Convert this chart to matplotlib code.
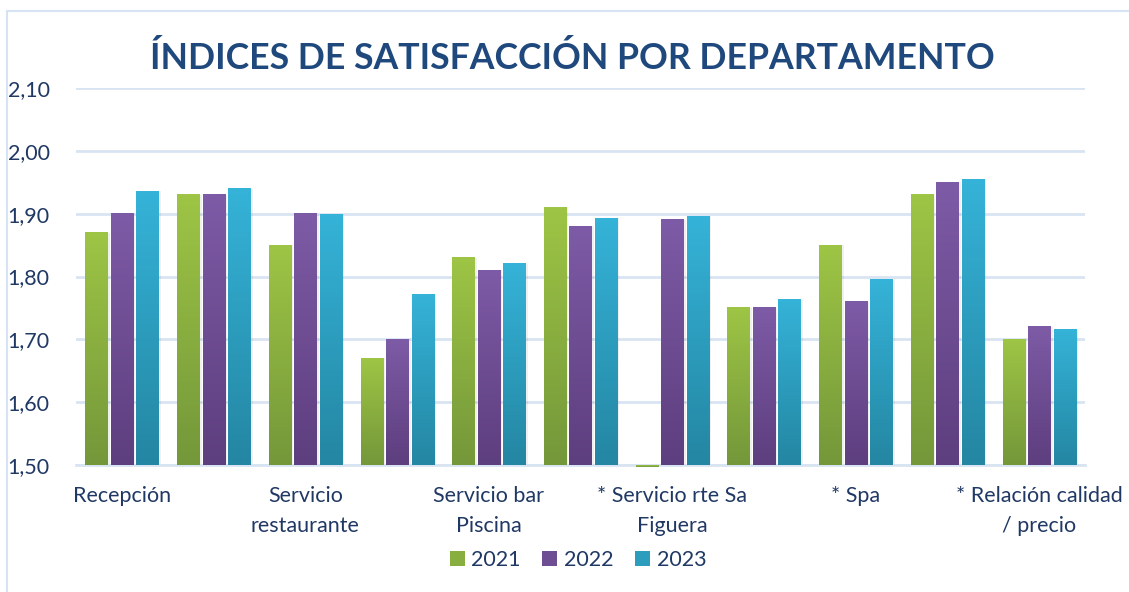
import matplotlib
matplotlib.use("Agg")
import matplotlib.pyplot as plt
import numpy as np
from matplotlib.colors import LinearSegmentedColormap
from matplotlib.patches import Rectangle, Patch

categories = ["Recepción", "", "Servicio\nrestaurante", "", "Servicio bar\nPiscina", "",
              "* Servicio rte Sa\nFiguera", "", "* Spa", "", "* Relación calidad\n/ precio"]
years = ["2021", "2022", "2023"]
v2021 = [1.87, 1.93, 1.85, 1.67, 1.83, 1.91, 1.497, 1.75, 1.85, 1.93, 1.70]
v2022 = [1.90, 1.93, 1.90, 1.70, 1.81, 1.88, 1.89, 1.75, 1.76, 1.95, 1.72]
v2023 = [1.936, 1.94, 1.899, 1.772, 1.82, 1.893, 1.896, 1.763, 1.795, 1.955, 1.715]
yticks = [1.50, 1.60, 1.70, 1.80, 1.90, 2.00, 2.10]

series = [v2021, v2022, v2023]
tops = ["#9EC545", "#7E5BA6", "#35B3D8"]
bottoms = ["#74973A", "#5D3E7E", "#2486A2"]
mids = ["#89AE40", "#6E4D92", "#2D9DBD"]

TXT = "#203864"
GRID = "#D9E4F2"
FONT = ["Lato", "DejaVu Sans"]
FS = 15.5

fig = plt.figure(figsize=(11.29, 5.92), dpi=100)
fig.patch.set_facecolor("white")

# chart border (light blue)
fig.add_artist(Rectangle((7/1129, -0.1), 1.2, (592-11)/592 + 0.1, transform=fig.transFigure,
                         fill=False, edgecolor="#D6E3F4", linewidth=1.5))

ax = fig.add_axes([76/1129, 1-465/592, (1085-76)/1129, (465-88)/592])
ax.set_ylim(1.50, 2.10)
ax.set_xlim(-0.5, len(categories) - 0.5)

x = np.arange(len(categories))
w = 0.24
step = 0.278
base = 1.50
for i, vals in enumerate(series):
    pos = x + (i - 1) * step
    heights = np.array(vals) - base
    bars = ax.bar(pos, heights, width=w, bottom=base, facecolor="none",
                  zorder=3, clip_on=False, linewidth=0)
    cmap = LinearSegmentedColormap.from_list("g%d" % i, [bottoms[i], tops[i]])
    grad = np.linspace(0, 1, 256).reshape(-1, 1)
    for b in bars:
        bx, by = b.get_x(), b.get_y()
        bw, bh = b.get_width(), b.get_height()
        y0, y1 = min(by, by + bh), max(by, by + bh)
        # soft shadow
        ax.add_patch(Rectangle((bx + 0.015, y0), bw + 0.012, (y1 - y0), color="#000000",
                               alpha=0.06, zorder=2, linewidth=0, clip_on=False))
        ax.imshow(grad, extent=[bx, bx + bw, y0, y1], origin="lower", aspect="auto",
                  cmap=cmap, zorder=4, clip_on=False, interpolation="bilinear")
    ax.set_xlim(-0.5, len(categories) - 0.5)
    ax.set_ylim(1.50, 2.10)

ax.set_yticks(yticks)
ax.set_yticklabels([("%.2f" % t).replace(".", ",") for t in yticks], fontsize=FS,
                   color=TXT, family=FONT)
ax.yaxis.grid(True, color=GRID, linewidth=2, zorder=0)
ax.tick_params(axis="y", length=0, pad=19)
ax.tick_params(axis="x", length=0, pad=15)
ax.set_xticks(x)
ax.set_xticklabels(categories, fontsize=FS, color=TXT, family=FONT, linespacing=1.62,
                   va="top")
for s in ["top", "right", "left"]:
    ax.spines[s].set_visible(False)
ax.spines["bottom"].set_color(GRID)
ax.spines["bottom"].set_linewidth(2)
ax.set_facecolor("none")

fig.text(572/1129, 1-58/592, "ÍNDICES DE SATISFACCIÓN POR DEPARTAMENTO", ha="center", va="center",
         fontsize=25.7, fontweight="bold", color="#1F497D", family=FONT)

handles = [Patch(facecolor=mids[i], edgecolor="none", label=years[i]) for i in range(3)]
leg = ax.legend(handles=handles, loc="center", bbox_to_anchor=(578/1129, 1-560/592),
                bbox_transform=fig.transFigure, ncol=3, frameon=False,
                handlelength=0.7, handleheight=0.7, handletextpad=0.3, columnspacing=1.0,
                prop={"family": FONT, "size": FS})
for t in leg.get_texts():
    t.set_color(TXT)

fig.savefig("out.png", dpi=100, facecolor="white")
